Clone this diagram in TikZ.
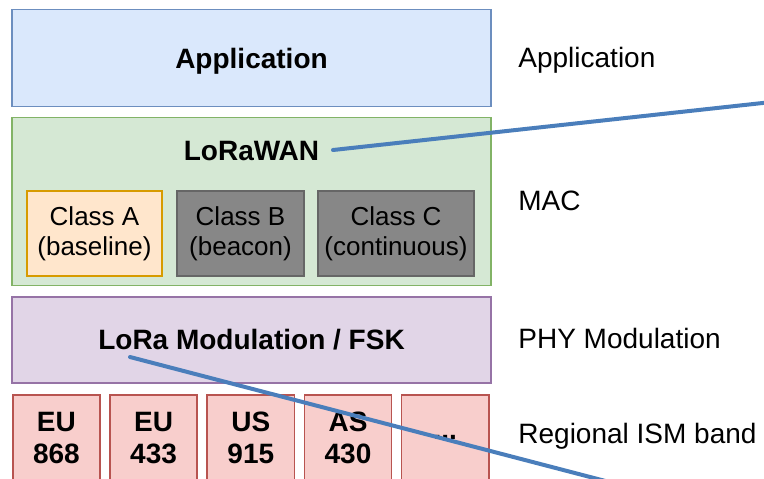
\documentclass[tikz,border=0pt]{standalone}
\usepackage{fontspec}
\setmainfont{Liberation Sans}
\usetikzlibrary{positioning}
\definecolor{appfill}{HTML}{DAE8FC}
\definecolor{appdraw}{HTML}{6C8EBF}
\definecolor{macfill}{HTML}{D5E8D4}
\definecolor{macdraw}{HTML}{82B366}
\definecolor{afill}{HTML}{FFE6CC}
\definecolor{adraw}{HTML}{D79B00}
\definecolor{gfill}{HTML}{878787}
\definecolor{gdraw}{HTML}{666666}
\definecolor{phyfill}{HTML}{E1D5E7}
\definecolor{phydraw}{HTML}{9673A6}
\definecolor{bandfill}{HTML}{F8CECC}
\definecolor{banddraw}{HTML}{B85450}
\definecolor{notecol}{HTML}{4A7EBB}

\begin{document}
\begin{tikzpicture}[x=0.5pt,y=-0.5pt,
 node distance=4.7pt and 4.2pt,
 layer/.style={draw,line width=0.8pt,minimum width=239.5pt,align=center,font=\bfseries\fontsize{14}{16.5}\selectfont},
 classbox/.style={draw,line width=0.8pt,minimum height=42.5pt,align=center,inner sep=0pt,text=black,font=\fontsize{13}{15}\selectfont},
 band/.style={draw=banddraw,fill=bandfill,line width=0.8pt,minimum width=43.6pt,minimum height=43pt,align=center,inner sep=0pt,font=\bfseries\fontsize{14}{16}\selectfont},
 side/.style={anchor=base west,inner sep=0pt,font=\fontsize{14}{16.5}\selectfont},
 note/.style={line width=2pt,draw=notecol,line cap=round}
]
\clip (0,0) rectangle (764,478);
\node[layer,fill=appfill,draw=appdraw,minimum height=48.5pt,text depth=0pt] (app) at (251.5,58) {Application};
\node[layer,fill=macfill,draw=macdraw,minimum height=84pt,below=4.7pt of app] (mac) {};
\node[font=\bfseries\fontsize{14}{16.5}\selectfont,inner sep=0pt,anchor=base] (lorawan) at (251.5,160) {LoRaWAN};
\node[classbox,fill=afill,draw=adraw,minimum width=67.5pt] (clA) at (94.5,233.5) {Class A\\(baseline)};
\node[classbox,fill=gfill,draw=gdraw,minimum width=63.5pt,right=6.7pt of clA] (clB) {Class B\\(beacon)};
\node[classbox,fill=gfill,draw=gdraw,minimum width=78pt,right=6.2pt of clB] (clC) {Class C\\(continuous)};
\node[layer,fill=phyfill,draw=phydraw,minimum height=43pt,below=5pt of mac] (phy) {LoRa Modulation / FSK};

\node[band,anchor=north west] (eu868) at (12,394) {EU\\868};
\node[band,right=of eu868] (eu433) {EU\\433};
\node[band,right=of eu433] (us915) {US\\915};
\node[band,right=of us915] (as430) {AS\\430};
\node[band,right=of as430] (more) {...};

\node[side] (sapp) at (518,67) {Application};
\node[side] (smac) at (518,210) {MAC};
\node[side] (sphy) at (518,348) {PHY Modulation};
\node[side] (sband) at (518,443) {Regional ISM band};

\coordinate (macmark) at (333,150);
\coordinate (macout) at (790,100);
\coordinate (phymark) at (130,357);
\coordinate (phyout) at (640,490);
\draw[note] (macmark) -- (macout);
\draw[note] (phymark) -- (phyout);
\end{tikzpicture}
\end{document}
